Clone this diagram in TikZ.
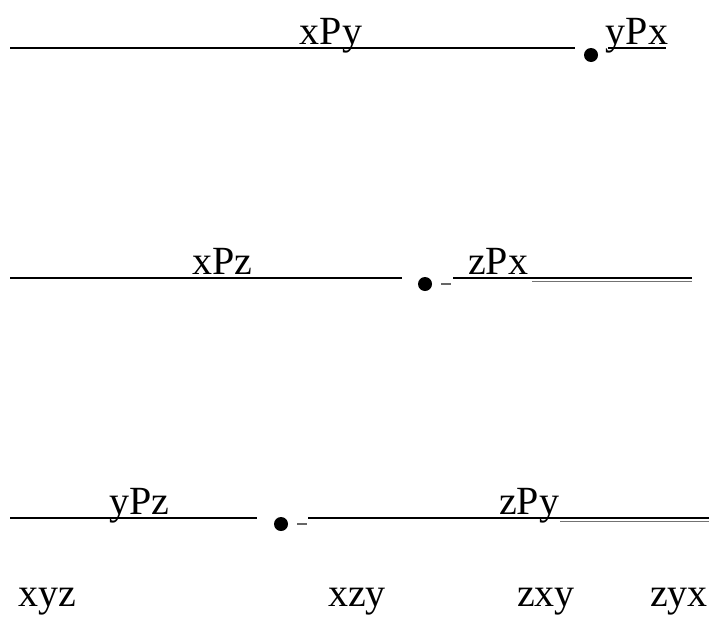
\documentclass[tikz,border=0pt]{standalone}
\usepackage{fontspec}
\setmainfont{Liberation Serif}
\usetikzlibrary{positioning}

\begin{document}
\begin{tikzpicture}[
    x=1pt, y=-1pt,
    every node/.style={font=\fontsize{40}{44}\selectfont, inner sep=0pt},
    rel/.style={anchor=base},
    order/.style={anchor=base},
    dot/.style={circle, fill=black, minimum size=14pt},
    pline/.style={line width=2.8pt},
    tick/.style={line width=1.2pt, black!60},
    under/.style={line width=1.8pt, black!55}
]
\useasboundingbox (0,0) rectangle (709,621);

% row 1
\coordinate (a1) at (10,48);
\coordinate (b1) at (575,48);
\node[dot] (d1) at (591,55) {};
\coordinate (c1) at (608,48);
\coordinate (e1) at (666,48);
\draw[pline] (a1) -- (b1);
\draw[pline] (c1) -- (e1);
\node[rel] (xPy) at (331,44) {xPy};
\node[rel] (yPx) at (637,44) {yPx};

% row 2
\coordinate (a2) at (10,278);
\coordinate (b2) at (402,278);
\node[dot] (d2) at (425,284) {};
\coordinate (t2a) at (441,284);
\coordinate (t2b) at (451,284);
\coordinate (c2) at (453,278);
\coordinate (e2) at (692,278);
\coordinate (g2a) at (532,281.5);
\coordinate (g2b) at (692,281.5);
\draw[pline] (a2) -- (b2);
\draw[tick] (t2a) -- (t2b);
\draw[pline] (c2) -- (e2);
\draw[under] (g2a) -- (g2b);
\node[rel] (xPz) at (222,274) {xPz};
\node[rel] (zPx) at (498,274) {zPx};

% row 3
\coordinate (a3) at (10,518);
\coordinate (b3) at (257,518);
\node[dot] (d3) at (281,524) {};
\coordinate (t3a) at (297,524);
\coordinate (t3b) at (307,524);
\coordinate (c3) at (308,518);
\coordinate (e3) at (709,518);
\coordinate (g3a) at (560,521.5);
\coordinate (g3b) at (709,521.5);
\draw[pline] (a3) -- (b3);
\draw[tick] (t3a) -- (t3b);
\draw[pline] (c3) -- (e3);
\draw[under] (g3a) -- (g3b);
\node[rel] (yPz) at (139,514) {yPz};
\node[rel] (zPy) at (529,514) {zPy};

% orders
\node[order] (xyz) at (47,606) {xyz};
\node[order] (xzy) at (357,606) {xzy};
\node[order] (zxy) at (546,606) {zxy};
\node[order] (zyx) at (679,606) {zyx};

\end{tikzpicture}
\end{document}
